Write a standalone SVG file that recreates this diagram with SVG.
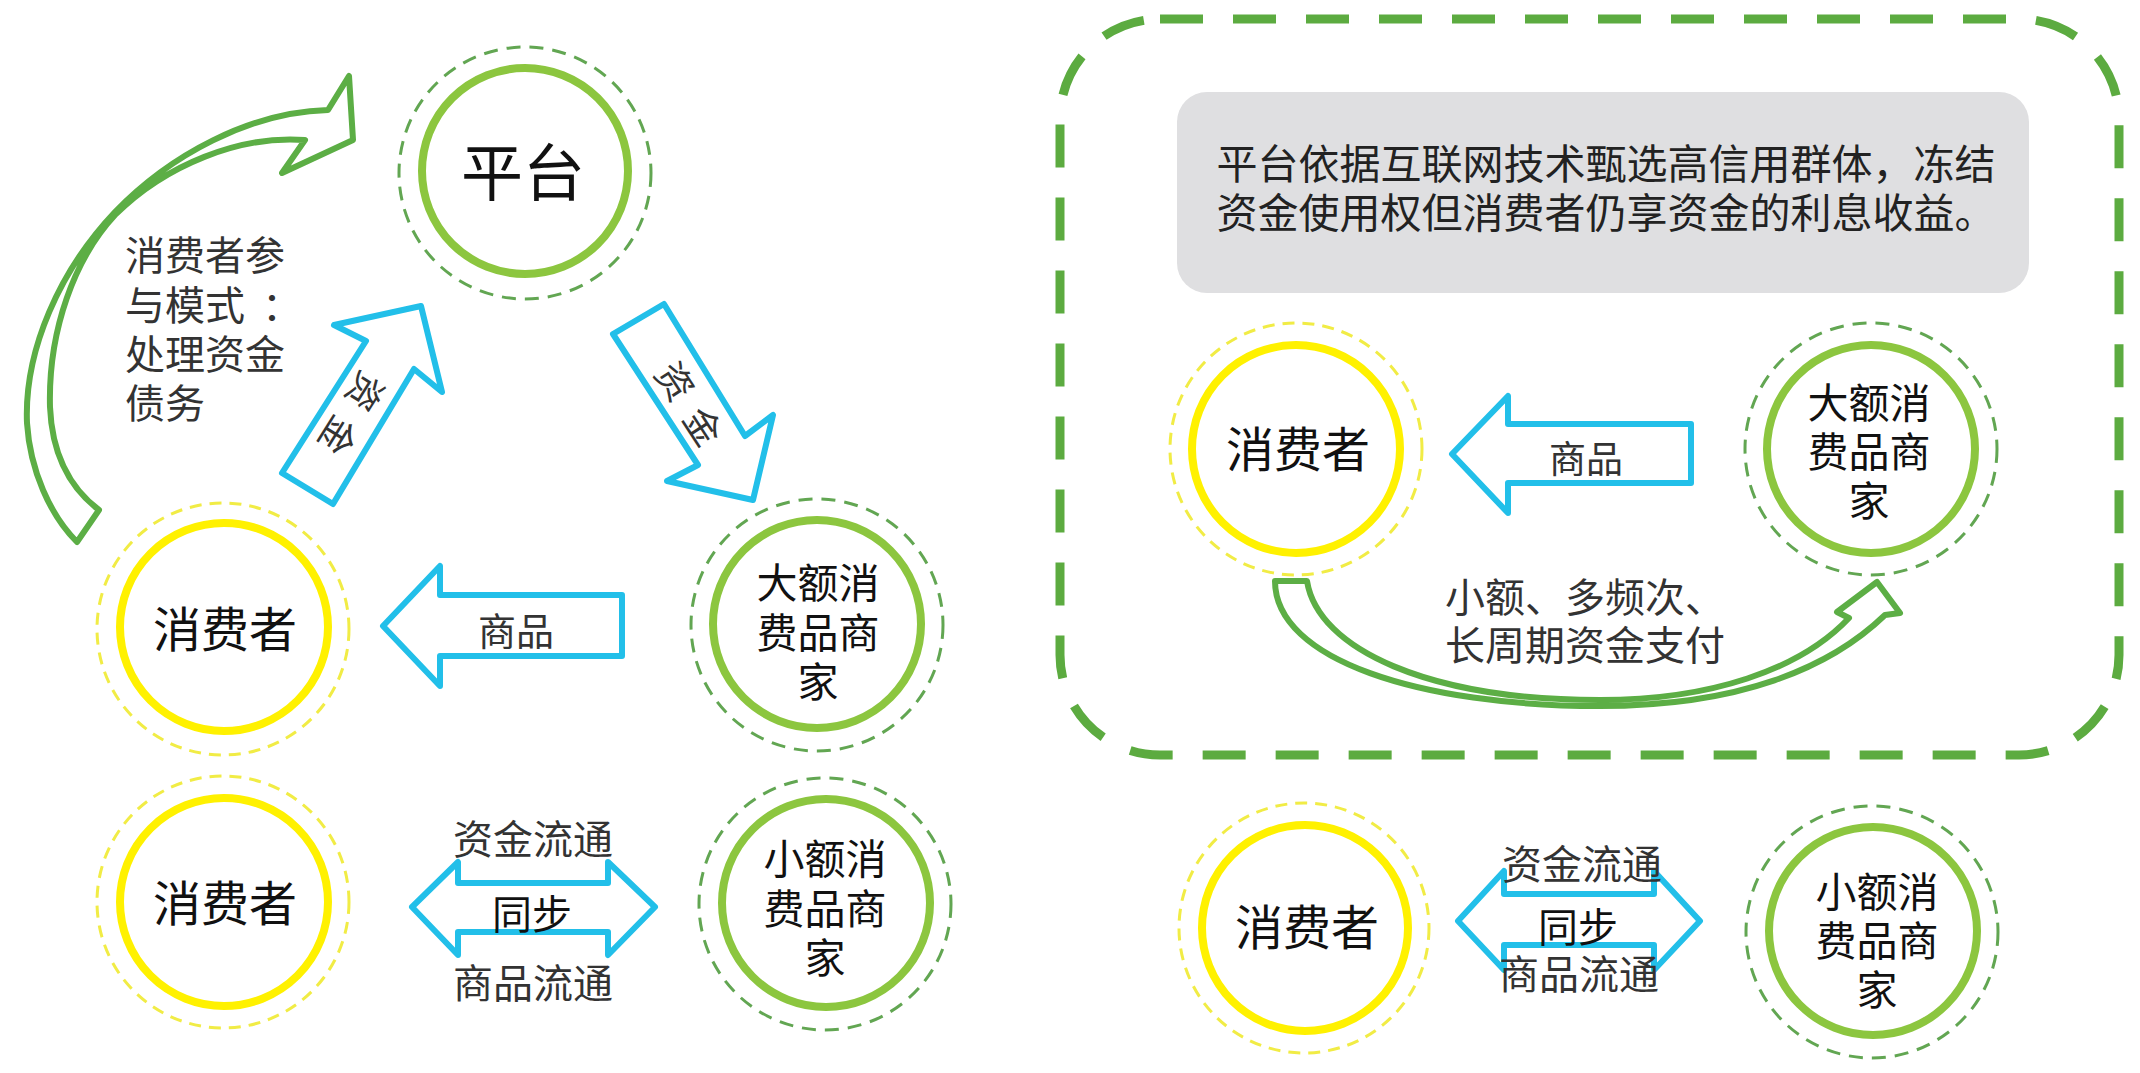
<svg xmlns="http://www.w3.org/2000/svg" width="2140" height="1073" viewBox="0 0 2140 1073">
<style>
text{font-family:"Noto Sans CJK SC","Noto Sans",sans-serif;dominant-baseline:central}
tspan{dominant-baseline:central}
.ny{fill:none;stroke:#fff100;stroke-width:8}
.oy{fill:none;stroke:#f1ec45;stroke-width:3;stroke-dasharray:12 8}
.ng{fill:none;stroke:#8cc63f;stroke-width:8}
.og{fill:none;stroke:#62a652;stroke-width:3;stroke-dasharray:14 9}
.blue{fill:none;stroke:#22bfe9;stroke-width:6;stroke-linejoin:round}
.garrow{fill:none;stroke:#5cae45;stroke-width:6;stroke-linejoin:round}
.lbl{fill:#111;font-size:48px;text-anchor:middle}
.lbl2{fill:#111;font-size:41px;text-anchor:middle}
.cap{fill:#333;font-size:40px}
.mid{text-anchor:middle}
</style>
<rect x="0" y="0" width="2140" height="1073" fill="#ffffff"/>

<g id="frame">
<rect x="1060" y="19" width="1059" height="736" rx="100" ry="100" fill="none" stroke="#5cab40" stroke-width="9" stroke-dasharray="43 30"/>
</g>

<g id="note">
<rect x="1177" y="92" width="852" height="201" rx="30" ry="30" fill="#dfdfe1"/>
<text fill="#222" font-size="41" text-anchor="middle"><tspan x="1606" y="161">平台依据互联网技术甄选高信用群体，冻结</tspan><tspan x="1606" y="210">资金使用权但消费者仍享资金的利息收益。</tspan></text>
</g>

<g id="connectors">
<path class="garrow" d="M77,542 C50,515 30,470 27,423 C24,350 60,270 115,212 C170,155 250,112 328,110 L349,76 L353,140 L282,173 L305,140 C240,135 165,165 115,215 C75,258 48,330 50,407 C52,455 70,488 99,510 Z"/>
<path class="blue" d="M282,473 L366,341 L334,325 L421,306 L442,392 L414,369 L333,504 Z"/>
<path class="blue" d="M613,334 L664,304 L745,436 L773,415 L753,500 L667,481 L698,465 Z"/>
<path class="blue" d="M383,626 L440,566 L440,595 L622,595 L622,656 L440,656 L440,686 Z"/>
<path class="blue" d="M412,907 L458,862 L458,883 L608,883 L608,862 L655,907 L608,955 L608,932 L458,932 L458,955 Z"/>
<path class="blue" d="M1452,454 L1508,396 L1508,424 L1691,424 L1691,483 L1508,483 L1508,513 Z"/>
<path class="garrow" d="M1275,581 L1307,581 C1318,650 1430,700 1600,700 C1710,700 1800,670 1849,618 L1837,612 L1877,582 L1900,613 L1885,615 C1830,668 1740,706 1600,706 C1420,706 1275,660 1275,581 Z"/>
<path class="blue" d="M1458,921 L1504,871 L1504,894 L1654,894 L1654,871 L1700,921 L1654,970 L1654,945 L1504,945 L1504,970 Z"/>
<text x="367" y="393" fill="#333" font-size="37" class="mid" transform="rotate(122 367 393)">资</text>
<text x="340" y="437" fill="#333" font-size="37" class="mid" transform="rotate(122 340 437)">金</text>
<text x="677" y="380" fill="#333" font-size="37" class="mid" transform="rotate(57 677 380)">资</text>
<text x="705" y="425" fill="#333" font-size="37" class="mid" transform="rotate(57 705 425)">金</text>
<text x="516" y="628" fill="#333" font-size="38" class="mid">商品</text>
<text x="1586" y="457" fill="#333" font-size="37" class="mid">商品</text>
<text class="cap mid"><tspan x="533" y="837">资金流通</tspan><tspan x="532" y="912" fill="#111">同步</tspan><tspan x="533" y="981">商品流通</tspan></text>
<text class="cap mid"><tspan x="1582" y="862">资金流通</tspan><tspan x="1578" y="925" fill="#111">同步</tspan><tspan x="1579" y="972">商品流通</tspan></text>
<text class="cap"><tspan x="1445" y="595">小额、多频次、</tspan><tspan x="1445" y="643">长周期资金支付</tspan></text>
<text class="cap" font-size="41"><tspan x="125" y="253">消费者参</tspan><tspan x="125" y="303">与模式</tspan><tspan x="262" y="303">：</tspan><tspan x="125" y="352">处理资金</tspan><tspan x="125" y="401">债务</tspan></text>
</g>

<g id="platform">
<circle class="og" cx="525" cy="173" r="126"/>
<circle class="ng" cx="525" cy="171" r="103"/>
<text x="523" y="169" fill="#111" font-size="62" text-anchor="middle">平台</text>
</g>

<g id="consumer-1">
<circle class="oy" cx="223" cy="629" r="126"/>
<circle class="ny" cx="224" cy="627" r="104"/>
<text class="lbl" x="225" y="626">消费者</text>
</g>

<g id="big-merchant-1">
<circle class="og" cx="817" cy="625" r="126"/>
<circle class="ng" cx="817" cy="624" r="104"/>
<text class="lbl2"><tspan x="818" y="580">大额消</tspan><tspan x="818" y="630">费品商</tspan><tspan x="818" y="679">家</tspan></text>
</g>

<g id="consumer-2">
<circle class="oy" cx="223" cy="902" r="126"/>
<circle class="ny" cx="224" cy="902" r="104"/>
<text class="lbl" x="225" y="900">消费者</text>
</g>

<g id="small-merchant-1">
<circle class="og" cx="825" cy="904" r="126"/>
<circle class="ng" cx="826" cy="903" r="104"/>
<text class="lbl2"><tspan x="825" y="856">小额消</tspan><tspan x="825" y="906">费品商</tspan><tspan x="825" y="955">家</tspan></text>
</g>

<g id="consumer-3">
<circle class="oy" cx="1296" cy="449" r="126"/>
<circle class="ny" cx="1296" cy="449" r="104"/>
<text class="lbl" x="1298" y="446">消费者</text>
</g>

<g id="big-merchant-2">
<circle class="og" cx="1871" cy="449" r="126"/>
<circle class="ng" cx="1871" cy="449" r="104"/>
<text class="lbl2"><tspan x="1869" y="400">大额消</tspan><tspan x="1869" y="449">费品商</tspan><tspan x="1869" y="498">家</tspan></text>
</g>

<g id="consumer-4">
<circle class="oy" cx="1304" cy="928" r="125"/>
<circle class="ny" cx="1305" cy="928" r="103"/>
<text class="lbl" x="1307" y="924">消费者</text>
</g>

<g id="small-merchant-2">
<circle class="og" cx="1872" cy="932" r="126"/>
<circle class="ng" cx="1873" cy="931" r="104"/>
<text class="lbl2"><tspan x="1877" y="889">小额消</tspan><tspan x="1877" y="938">费品商</tspan><tspan x="1877" y="987">家</tspan></text>
</g>
</svg>
